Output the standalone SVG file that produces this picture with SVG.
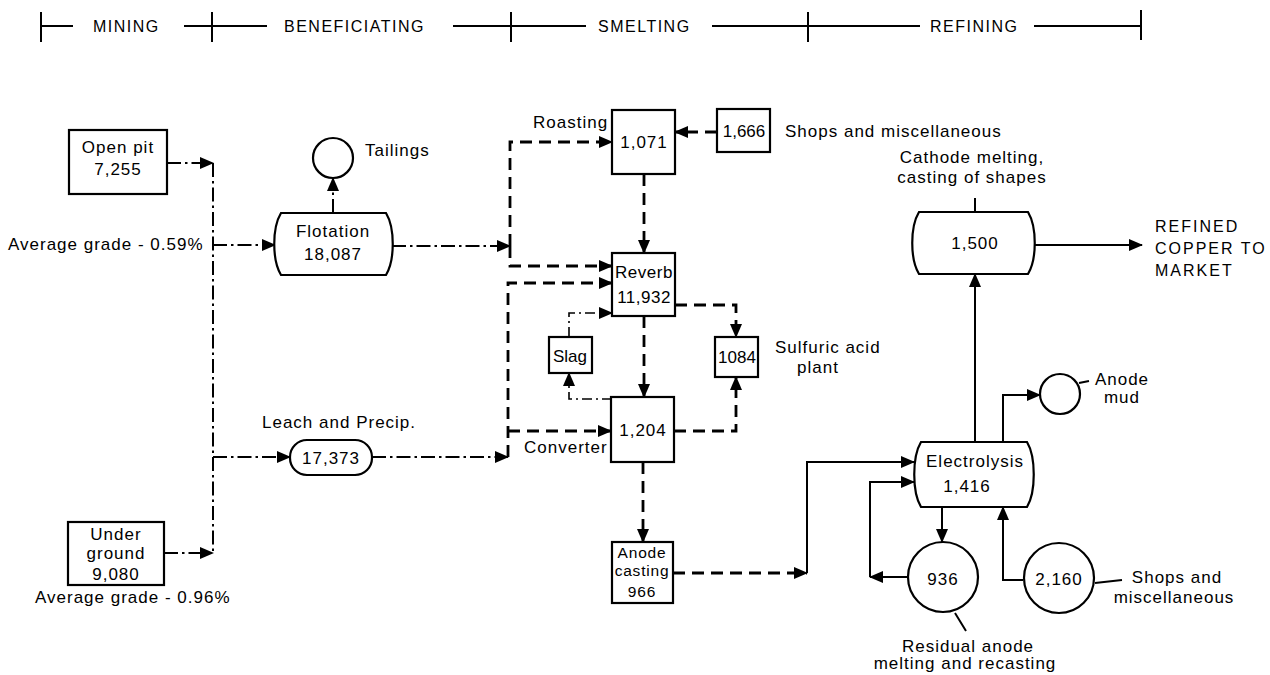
<svg xmlns="http://www.w3.org/2000/svg" width="1270" height="675" viewBox="0 0 1270 675">
<style>
text{font-family:"Liberation Sans",Arial,sans-serif;font-size:17px;letter-spacing:1px;fill:#000}
.hd{font-size:16px;letter-spacing:1.5px}
.mid{text-anchor:middle}
.box{fill:#fff;stroke:#000;stroke-width:2.2}
.hl{stroke:#000;stroke-width:2;fill:none}
.dd{stroke:#000;stroke-width:2;fill:none;stroke-dasharray:14 4 2.5 4}
.ds{stroke:#000;stroke-width:2.8;fill:none;stroke-dasharray:12 7}
.sd{stroke:#000;stroke-width:1.6;fill:none;stroke-dasharray:10 4 2 4}
.so{stroke:#000;stroke-width:2;fill:none}
.sm{font-size:15.5px;letter-spacing:0.8px}
</style>
<defs>
<marker id="ah" viewBox="0 0 14 12" refX="13" refY="6" markerWidth="14" markerHeight="12" markerUnits="userSpaceOnUse" orient="auto">
<path d="M0,0 L14,6 L0,12 Z" fill="#000"/>
</marker>
</defs>

<g id="header">
<path class="hl" d="M41,26 H73 M41,12 V42 M184,26 H267 M212,12 V42 M453,26 H586 M511,12 V42 M712,26 H920 M808,12 V42 M1034,26 H1141 M1141,10 V40"/>
<text class="hd" x="93" y="32">MINING</text>
<text class="hd" x="284" y="32">BENEFICIATING</text>
<text class="hd" x="598" y="32">SMELTING</text>
<text class="hd" x="930" y="32">REFINING</text>
</g>

<g id="connectors">
<!-- mining (dash-dot) -->
<path class="dd" d="M167,163 H213" marker-end="url(#ah)"/>
<path class="dd" d="M164,553 H213" marker-end="url(#ah)"/>
<path class="dd" d="M213,163 V553"/>
<path class="dd" d="M213,245 H275" marker-end="url(#ah)"/>
<path class="dd" d="M213,457 H290" marker-end="url(#ah)"/>
<!-- beneficiating -->
<path class="dd" d="M333,213 V178" marker-end="url(#ah)"/>
<path class="dd" d="M392,246 H510" marker-end="url(#ah)"/>
<path class="dd" d="M372,457 H508" marker-end="url(#ah)"/>
<!-- smelting (dashed) -->
<path class="ds" d="M510,246 V142 H612" marker-end="url(#ah)"/>
<path class="ds" d="M510,246 V266 H612" marker-end="url(#ah)"/>
<path class="ds" d="M508,457 V283 H612" marker-end="url(#ah)"/>
<path class="ds" d="M508,431 H611" marker-end="url(#ah)"/>
<path class="ds" d="M717,132 H675" marker-end="url(#ah)"/>
<path class="ds" d="M644,174 V253" marker-end="url(#ah)"/>
<path class="ds" d="M644,316 V397" marker-end="url(#ah)"/>
<path class="ds" d="M675,305 H736 V337" marker-end="url(#ah)"/>
<path class="ds" d="M674,431 H736 V377" marker-end="url(#ah)"/>
<path class="ds" d="M643,462 V542" marker-end="url(#ah)"/>
<path class="ds" d="M673,573 H807" marker-end="url(#ah)"/>
<!-- slag -->
<path class="sd" d="M612,399 H569 V373" marker-end="url(#ah)"/>
<path class="sd" d="M569,337 V313 H612" marker-end="url(#ah)"/>
<!-- refining (solid) -->
<path class="so" d="M807,573 V462 H914" marker-end="url(#ah)"/>
<path class="so" d="M975,442 V274" marker-end="url(#ah)"/>
<path class="so" d="M975,198 V212"/>
<path class="so" d="M1034,245 H1142" marker-end="url(#ah)"/>
<path class="so" d="M1003,442 V395 H1040" marker-end="url(#ah)"/>
<path class="so" d="M942,507 V542" marker-end="url(#ah)"/>
<path class="so" d="M908,577 H870" marker-end="url(#ah)"/>
<path class="so" d="M870,577 V482 H914" marker-end="url(#ah)"/>
<path class="so" d="M1023,580 H1003 V507" marker-end="url(#ah)"/>
<!-- leaders -->
<path class="so" d="M1079,383 L1089,381 M1095,583 L1122,580 M955,613 L966,631" stroke-width="1.6"/>
</g>

<g id="open-pit">
<rect class="box" x="69" y="130" width="98" height="64"/>
<text class="mid" x="118" y="153">Open pit</text>
<text class="mid" x="118" y="175">7,255</text>
</g>
<g id="grade-open">
<text x="8" y="250">Average grade - 0.59%</text>
</g>
<g id="underground">
<rect class="box" x="68" y="522" width="96" height="63"/>
<text class="mid" x="116" y="540">Under</text>
<text class="mid" x="116" y="559">ground</text>
<text class="mid" x="116" y="580">9,080</text>
</g>
<g id="grade-under">
<text x="35" y="603">Average grade - 0.96%</text>
</g>

<g id="tailings">
<circle class="box" cx="333" cy="158" r="20"/>
<text x="365" y="156">Tailings</text>
</g>
<g id="flotation">
<path class="box" d="M281,213 H386 C395,228 395,260 386,275 H281 C272,260 272,228 281,213 Z"/>
<text class="mid" x="333" y="237">Flotation</text>
<text class="mid" x="333" y="260">18,087</text>
</g>
<g id="leach">
<text x="262" y="428">Leach and Precip.</text>
<rect class="box" x="290" y="440" width="82" height="35" rx="17"/>
<text class="mid" x="331" y="464">17,373</text>
</g>

<g id="roasting">
<text x="533" y="128">Roasting</text>
<rect class="box" x="612" y="110" width="63" height="64"/>
<text class="mid" x="644" y="148">1,071</text>
</g>
<g id="shops-smelting">
<rect class="box" x="717" y="109" width="53" height="43"/>
<text class="mid" x="744" y="137" style="letter-spacing:0">1,666</text>
<text x="785" y="137">Shops and miscellaneous</text>
</g>
<g id="reverb">
<rect class="box" x="612" y="253" width="63" height="63"/>
<text class="mid" x="644" y="278" style="letter-spacing:0.5px">Reverb</text>
<text class="mid" x="644" y="303" style="letter-spacing:0.5px">11,932</text>
</g>
<g id="slag">
<rect class="box" x="549" y="337" width="43" height="36"/>
<text class="mid" x="570" y="362" style="letter-spacing:0">Slag</text>
</g>
<g id="acid">
<rect class="box" x="715" y="337" width="43" height="40"/>
<text class="mid" x="737" y="363" style="letter-spacing:0">1084</text>
<text x="775" y="353">Sulfuric acid</text>
<text x="797" y="373">plant</text>
</g>
<g id="converter">
<rect class="box" x="611" y="397" width="63" height="65"/>
<text class="mid" x="643" y="436">1,204</text>
<text x="524" y="453">Converter</text>
</g>
<g id="anode-casting">
<rect class="box" x="612" y="542" width="61" height="61"/>
<text class="mid sm" x="642" y="558">Anode</text>
<text class="mid sm" x="642" y="576">casting</text>
<text class="mid sm" x="642" y="597">966</text>
</g>

<g id="cathode-melting">
<text class="mid" x="972" y="163">Cathode melting,</text>
<text class="mid" x="972" y="183">casting of shapes</text>
<path class="box" d="M919,212 H1028 C1037,227 1037,259 1028,274 H919 C910,259 910,227 919,212 Z"/>
<text class="mid" x="975" y="249">1,500</text>
</g>
<g id="market">
<text x="1155" y="232" style="font-size:16px;letter-spacing:2px">REFINED</text>
<text x="1155" y="254" style="font-size:16px;letter-spacing:2px">COPPER TO</text>
<text x="1155" y="276" style="font-size:16px;letter-spacing:2px">MARKET</text>
</g>
<g id="electrolysis">
<path class="box" d="M921,442 H1027 C1036,457 1036,492 1027,507 H921 C912,492 912,457 921,442 Z"/>
<text class="mid" x="975" y="467">Electrolysis</text>
<text class="mid" x="967" y="492">1,416</text>
</g>
<g id="anode-mud">
<circle class="box" cx="1060" cy="394" r="20"/>
<text class="mid" x="1122" y="385">Anode</text>
<text class="mid" x="1122" y="403">mud</text>
</g>
<g id="residual">
<circle class="box" cx="943" cy="577" r="35"/>
<text class="mid" x="943" y="585">936</text>
<text class="mid" x="968" y="652">Residual anode</text>
<text class="mid" x="965" y="669">melting and recasting</text>
</g>
<g id="shops-refining">
<circle class="box" cx="1059" cy="578" r="35"/>
<text class="mid" x="1059" y="585">2,160</text>
<text class="mid" x="1177" y="583">Shops and</text>
<text class="mid" x="1174" y="603">miscellaneous</text>
</g>
</svg>
